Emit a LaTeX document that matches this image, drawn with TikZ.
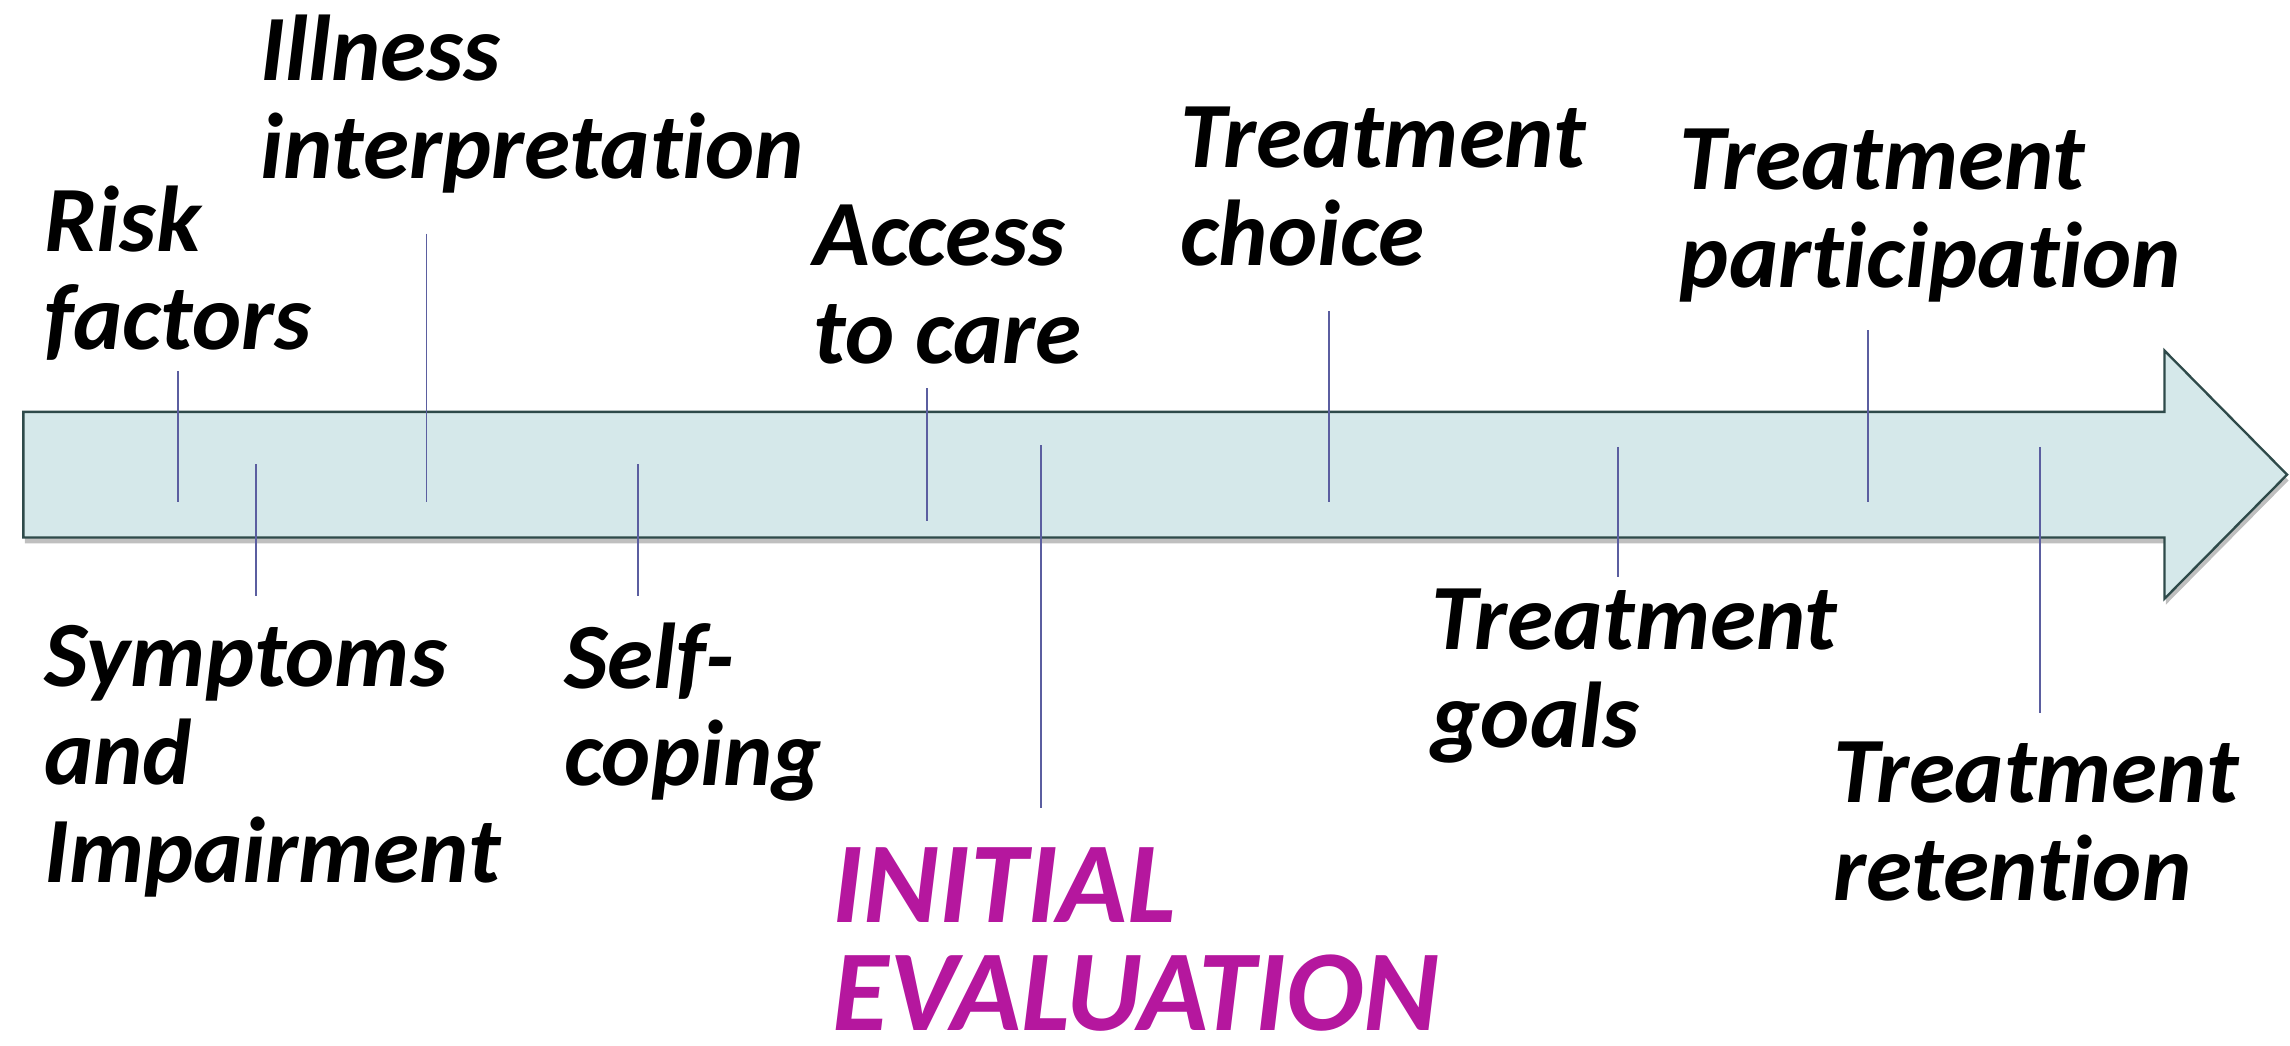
\documentclass[tikz,border=0pt]{standalone}
\usepackage{fontspec}
\setmainfont{Carlito}[Ligatures={NoCommon}]
\newfontfamily\magfont{Carlito}[Ligatures={NoCommon}]
\usetikzlibrary{shadows}
\definecolor{arrowfill}{RGB}{213,232,234}
\definecolor{arrowdraw}{RGB}{46,74,74}
\definecolor{tickc}{RGB}{91,94,160}
\definecolor{magc}{RGB}{181,23,158}
\newcommand{\nolig}{\kern0pt\relax}
\begin{document}
\begin{tikzpicture}[x=1pt,y=-1pt,
  lab/.style={anchor=north west, inner sep=0pt, align=left,
    font=\fontsize{64}{67}\selectfont\bfseries\itshape},
  maglab/.style={anchor=north west, inner sep=0pt, align=left, text=magc,
    font=\magfont\fontsize{79}{74}\selectfont\bfseries\itshape},
  tick/.style={draw=tickc, line width=1.3pt},
  bigarrow/.style={draw=arrowdraw, fill=arrowfill, line width=1.6pt, line join=miter,
    drop shadow={shadow xshift=1pt, shadow yshift=-4pt, opacity=0.25, fill=black}}]
\useasboundingbox (0,0) rectangle (1568,716);
% arrow
\path[bigarrow] (16,282) -- (1482,282) -- (1482,240) -- (1566,325) -- (1482,410) -- (1482,368) -- (16,368) -- cycle;
% labels
\node[lab] (risk) at (30,127) {Risk\\factors};
\node[lab] (illness) at (178,10) {Illness\\interpretat\nolig ion};
\node[lab] (access) at (557,140) {Access\\to care};
\node[lab] (choice) at (808,73) {Treatment\\choice};
\node[lab] (particip) at (1150,88) {Treatment\\participat\nolig ion};
\node[lab] (symptoms) at (30,428) {Symptoms\\and\\Impairment};
\node[lab] (self) at (386,426) {Self-\\coping};
\node[maglab] (initial) at (570,580) {INITIAL\\EVALUATION};
\node[lab] (goals) at (980,403) {Treatment\\goals};
\node[lab] (retention) at (1255,508) {Treatment\\retent\nolig ion};
% tick coordinates
\coordinate (t1a) at (122,254); \coordinate (t1b) at (122,344);
\coordinate (t2a) at (175,318); \coordinate (t2b) at (175,408);
\coordinate (t3a) at (292,160); \coordinate (t3b) at (292,344);
\coordinate (t4a) at (437,318); \coordinate (t4b) at (437,408);
\coordinate (t5a) at (635,266); \coordinate (t5b) at (635,357);
\coordinate (t6a) at (713,305); \coordinate (t6b) at (713,553);
\coordinate (t7a) at (910,213); \coordinate (t7b) at (910,344);
\coordinate (t8a) at (1108,306); \coordinate (t8b) at (1108,395);
\coordinate (t9a) at (1279,226); \coordinate (t9b) at (1279,344);
\coordinate (t10a) at (1397,306); \coordinate (t10b) at (1397,488);
\foreach \i in {1,...,10} {\draw[tick] (t\i a) -- (t\i b);}
\end{tikzpicture}
\end{document}
